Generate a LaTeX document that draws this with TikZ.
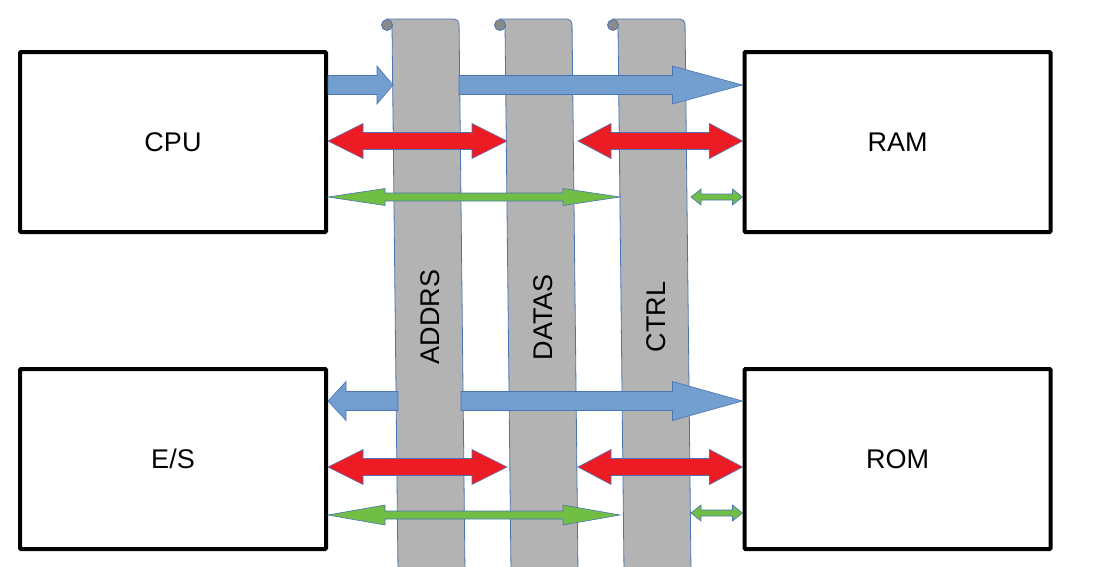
\documentclass[tikz,border=0pt]{standalone}
\usepackage{fontspec}
\setmainfont{Liberation Sans}
\usetikzlibrary{calc}

\definecolor{busgray}{HTML}{B3B3B3}
\definecolor{curlgray}{HTML}{8A8A8A}
\definecolor{edgeblue}{HTML}{4A74B4}
\definecolor{addrblue}{HTML}{729FCF}
\definecolor{datared}{HTML}{ED1C24}
\definecolor{ctrlgreen}{HTML}{70BF44}

\tikzset{
  unit/.style={draw=black,line width=4pt,rounded corners=1pt,minimum width=306pt,minimum height=180pt,font=\fontsize{27}{32}\selectfont},
  bus/.style={fill=busgray,draw=edgeblue,line width=0.8pt},
  buslabel/.style={rotate=90,font=\fontsize{27}{32}\selectfont},
  addr/.style={fill=addrblue,draw=edgeblue,line width=0.6pt},
  data/.style={fill=datared,draw=edgeblue,line width=0.6pt},
  ctrl/.style={fill=ctrlgreen,draw=edgeblue,line width=0.6pt}
}

% block arrow: style, tail, tip, shaft half, head half, head length
\newcommand{\onearrow}[6]{%
  \coordinate (hb) at ($(#3)!#6pt!(#2)$);
  \filldraw[#1] ($(#2)+(0,#4)$) -- ($(hb)+(0,#4)$) -- ($(hb)+(0,#5)$) -- (#3)
    -- ($(hb)+(0,-#5)$) -- ($(hb)+(0,-#4)$) -- ($(#2)+(0,-#4)$) -- cycle;}
\newcommand{\twoarrow}[6]{%
  \coordinate (hb) at ($(#2)!#6pt!(#3)$);
  \coordinate (hc) at ($(#3)!#6pt!(#2)$);
  \filldraw[#1] (#2) -- ($(hb)+(0,#5)$) -- ($(hb)+(0,#4)$) -- ($(hc)+(0,#4)$) -- ($(hc)+(0,#5)$) -- (#3)
    -- ($(hc)+(0,-#5)$) -- ($(hc)+(0,-#4)$) -- ($(hb)+(0,-#4)$) -- ($(hb)+(0,-#5)$) -- cycle;}

\begin{document}
\begin{tikzpicture}[x=1pt,y=-1pt]
\useasboundingbox (0,0) rectangle (1094,566);

\foreach \x/\name in {392/ADDRS,505/DATAS,618/CTRL} {
  \filldraw[bus] (\x-5,19) [rounded corners=5pt] -- (\x+67,19) [sharp corners] -- (\x+73,572) -- (\x+6,572) -- (\x,25) -- cycle;
  \filldraw[bus,fill=curlgray] (\x-5,25) circle (5.5);
  \node[buslabel] (\name) at (\x+38,317) {\name};
}

\node[unit] (cpu) at (173,142) {CPU};
\node[unit] (ram) at (897.5,142) {RAM};
\node[unit] (es) at (173,459) {E/S};
\node[unit] (rom) at (897.5,459) {ROM};

\coordinate (cpu1) at ($(cpu.east)+(0,-57)$);
\coordinate (cpu2) at ($(cpu.east)+(0,-1)$);
\coordinate (cpu3) at ($(cpu.east)+(0,55)$);
\coordinate (ram1) at ($(ram.west)+(0,-57)$);
\coordinate (ram2) at ($(ram.west)+(0,-1)$);
\coordinate (ram3) at ($(ram.west)+(0,55)$);
\coordinate (es1) at ($(es.east)+(0,-58)$);
\coordinate (es2) at ($(es.east)+(0,8)$);
\coordinate (es3) at ($(es.east)+(0,56)$);
\coordinate (rom1) at ($(rom.west)+(0,-58)$);
\coordinate (rom2) at ($(rom.west)+(0,8)$);
\coordinate (rom3) at ($(rom.west)+(0,54)$);

\coordinate (aw1) at (393,85);
\coordinate (ae1) at (459,85);
\coordinate (dw1) at (507,141);
\coordinate (de1) at (578,141);
\coordinate (cw1) at (620,197);
\coordinate (ce1) at (691,197);
\coordinate (aw2) at (398,401);
\coordinate (ae2) at (461,401);
\coordinate (dw2) at (507,467);
\coordinate (de2) at (578,467);
\coordinate (cw2) at (620,515);
\coordinate (ce2) at (691,513);

\onearrow{addr}{cpu1}{aw1}{9.5}{19}{16}
\onearrow{addr}{ae1}{ram1}{9.5}{19}{70}
\twoarrow{data}{cpu2}{dw1}{8.5}{17.5}{35}
\twoarrow{data}{de1}{ram2}{8.5}{17.5}{33}
\twoarrow{ctrl}{cpu3}{cw1}{4}{8.5}{57}
\twoarrow{ctrl}{ce1}{ram3}{3}{8}{10}

\onearrow{addr}{aw2}{es1}{9.5}{19.5}{18}
\onearrow{addr}{ae2}{rom1}{9.5}{19.5}{70}
\twoarrow{data}{es2}{dw2}{8.5}{17.5}{35}
\twoarrow{data}{de2}{rom2}{8.5}{17.5}{33}
\twoarrow{ctrl}{es3}{cw2}{4}{10}{57}
\twoarrow{ctrl}{ce2}{rom3}{3}{8}{10}
\end{tikzpicture}
\end{document}
